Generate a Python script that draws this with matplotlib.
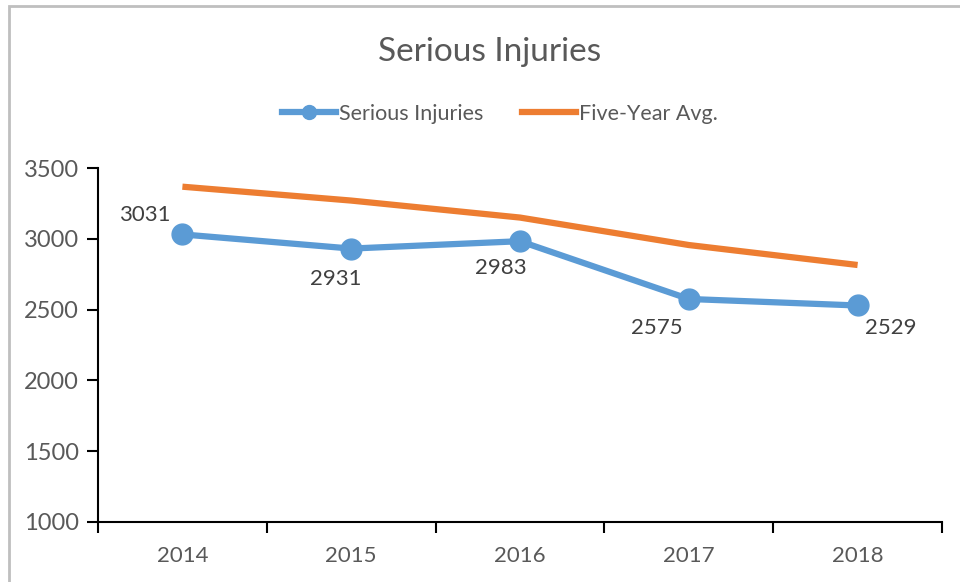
import matplotlib.pyplot as plt
from matplotlib.lines import Line2D
from matplotlib.patches import Rectangle

years = ["2014", "2015", "2016", "2017", "2018"]
serious = [3031, 2931, 2983, 2575, 2529]
five_year = [3368, 3270, 3150, 2956, 2815]

# label offsets in points (dx, dy) like the excel placement
offsets = [(-27, 14), (-11, -22), (-14, -19), (-23, -21), (24, -16)]

plt.rcParams['font.family'] = ['Lato', 'DejaVu Sans']
txt = "#595959"
blue = "#5B9BD5"
orange = "#ED7D31"

fig = plt.figure(figsize=(9.6, 5.82), dpi=100)
ax = fig.add_axes([98/960, 1 - 522/582, 844/960, 354/582])

x = range(len(years))
ax.plot(x, five_year, color=orange, lw=4.5, solid_capstyle="butt", zorder=2)
ax.plot(x, serious, color=blue, lw=4.5, marker="o", ms=15, zorder=3)

for i, v in enumerate(serious):
    ax.annotate(str(v), (i, v), xytext=offsets[i], textcoords="offset points",
                ha="center", va="center", fontsize=16, color="#404040")

ax.set_xlim(-0.5, len(years) - 0.5)
ax.set_ylim(1000, 3500)
ax.set_yticks(range(1000, 3501, 500))
ax.set_xticks(x)
ax.set_xticklabels(years)
ax.set_xticks([i - 0.5 for i in range(len(years) + 1)], minor=True)
ax.tick_params(axis="x", which="major", length=0, pad=17, labelsize=16, labelcolor=txt)
ax.tick_params(axis="x", which="minor", length=8, width=1.5, direction="out", color="black")
ax.tick_params(axis="y", length=8, width=1.5, direction="out", pad=6, labelsize=17, labelcolor=txt)

for s in ["top", "right"]:
    ax.spines[s].set_visible(False)
ax.spines["left"].set_linewidth(1.5)
ax.spines["bottom"].set_linewidth(1.5)

fig.text(490/960, 1 - 52/582, "Serious Injuries", ha="center", va="center",
         fontsize=24, color=txt)

handles = [Line2D([], [], color=blue, lw=4.5, marker="o", ms=10),
           Line2D([], [], color=orange, lw=4.5)]
fig.legend(handles, ["Serious Injuries", "Five-Year Avg."], loc="center",
           bbox_to_anchor=(500/960, 1 - 114/582), ncol=2, frameon=False,
           fontsize=15.5, labelcolor=txt, handlelength=2.5, handletextpad=0.15,
           columnspacing=1.8)

fig.patches.append(Rectangle((9/960, -0.05), 1.2, 1 - 6/582 + 0.05, transform=fig.transFigure,
                             fill=False, edgecolor="#BFBFBF", lw=2))

fig.savefig("out.png", dpi=100)
